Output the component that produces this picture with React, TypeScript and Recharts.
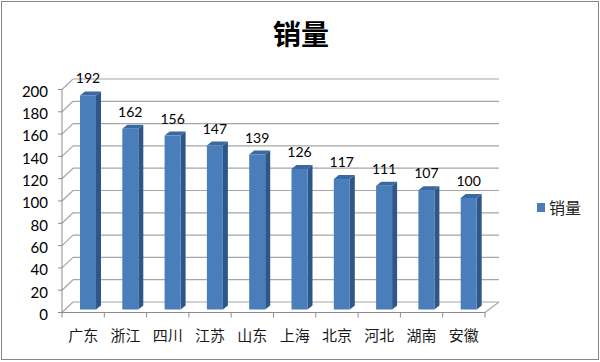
import React from 'react';
import { BarChart, Bar, XAxis, YAxis, CartesianGrid, LabelList, Legend } from 'recharts';

const categories = ['广东', '浙江', '四川', '江苏', '山东', '上海', '北京', '河北', '湖南', '安徽'];
const sales = [192, 162, 156, 147, 139, 126, 117, 111, 107, 100];
const yTicks = [0, 20, 40, 60, 80, 100, 120, 140, 160, 180, 200];
const seriesName = '销量';
const titleText = '销量';

const data = categories.map((c, i) => ({ name: c, [seriesName]: sales[i] }));

const GRID = '#a6a6a6';
const AXIS = '#8c8c8c';
const FRONT = '#4a7ebb';
const SIDE = '#2e5687';
const TOP = '#3a68a3';
const NUM_FONT = 'Lato, "Liberation Sans", sans-serif';
const CJK_FONT = '"Noto Sans CJK SC", sans-serif';

// 3D offsets
const WDX = 11, WDY = -10.5, WDXR = 14; // wall depth
const FDX = 5, FDY = -3; // bar front offset
const BDX = 5, BDY = -4; // bar depth

const Bar3D = (props: any) => {
  const { x, y, width, height } = props;
  if (width == null || height == null) return null;
  const fx = x + FDX;
  const fy = y + FDY;
  const fb = fy + height;
  const side = `${fx + width},${fy} ${fx + width + BDX},${fy + BDY} ${fx + width + BDX},${fb + BDY} ${fx + width},${fb}`;
  const top = `${fx},${fy} ${fx + BDX},${fy + BDY} ${fx + width + BDX},${fy + BDY} ${fx + width},${fy}`;
  return (
    <g>
      <polygon points={side} fill={SIDE} />
      <polygon points={top} fill={TOP} />
      <rect x={fx} y={fy} width={width} height={height} fill={FRONT} />
    </g>
  );
};

const GridLine = (props: any) => {
  const { x1, x2, y1, index } = props;
  const bx1 = x1 + WDX;
  const by = y1 + WDY;
  return (
    <g key={`g-${index}-${y1}`}>
      <line x1={x1} y1={y1} x2={bx1} y2={by} stroke={GRID} strokeWidth={1.2} />
      <line x1={bx1} y1={by} x2={x2 + WDXR} y2={by} stroke={GRID} strokeWidth={1.2} />
      {Math.abs(y1 - 312.5) < 1 ? (
        <line x1={x2} y1={y1} x2={x2 + WDXR} y2={by} stroke={GRID} strokeWidth={1.2} />
      ) : null}
    </g>
  );
};

const XTick = (props: any) => {
  const { x, y, payload, index, visibleTicksCount, width } = props;
  const step = width && visibleTicksCount ? width / visibleTicksCount : 42.3;
  const half = step / 2;
  return (
    <g>
      <line x1={x - half} y1={y} x2={x - half} y2={y + 5} stroke={AXIS} />
      {index === visibleTicksCount - 1 ? (
        <line x1={x + half} y1={y} x2={x + half} y2={y + 5} stroke={AXIS} />
      ) : null}
      <text x={x} y={y + 28} textAnchor="middle" fontFamily={CJK_FONT} fontSize={15} fill="#1a1a1a">
        {payload.value}
      </text>
    </g>
  );
};

const ValueLabel = (props: any) => {
  const { x, y, width, value } = props;
  return (
    <text x={x + FDX + width / 2} y={y - 15} textAnchor="middle" fontFamily={NUM_FONT} fontSize={14} fill="#000">
      {value}
    </text>
  );
};

const LegendContent = () => (
  <div style={{ display: 'flex', alignItems: 'center', fontFamily: CJK_FONT, fontSize: 16, color: '#222', lineHeight: '20px' }}>
    <span style={{ display: 'inline-block', width: 8, height: 9, background: FRONT, marginRight: 4 }} />
    <span>{seriesName}</span>
  </div>
);

export default function App() {
  return (
    <div style={{ position: 'absolute', left: 0, top: 0, width: 600, height: 362, background: '#fff' }}>
      <div
        style={{
          position: 'absolute', left: 1, top: 1, width: 598, height: 359, boxSizing: 'border-box',
          border: '1px solid #868686', pointerEvents: 'none', zIndex: 2,
        }}
      />
      <div
        style={{
          position: 'absolute', left: 1, top: 14, width: 600, textAlign: 'center', fontFamily: CJK_FONT,
          fontWeight: 'bold', fontSize: 28, lineHeight: '38px', color: '#000', zIndex: 1,
        }}
      >
        {titleText}
      </div>
      <BarChart width={600} height={362} data={data} margin={{ top: 89.5, right: 115, bottom: 19.5, left: 0 }}>
        <CartesianGrid vertical={false} horizontal={GridLine as any} />
        <XAxis
          dataKey="name"
          height={30}
          tickLine={false}
          tickSize={0}
          tickMargin={0}
          axisLine={{ stroke: AXIS }}
          tick={<XTick />}
          interval={0}
        />
        <YAxis
          width={62}
          domain={[0, 200]}
          ticks={yTicks}
          interval={0}
          tickSize={4}
          tickMargin={10}
          axisLine={{ stroke: AXIS }}
          tickLine={{ stroke: AXIS }}
          tick={{ fontFamily: NUM_FONT, fontSize: 15, fill: '#000', dy: 2 }}
        />
        <Legend
          layout="vertical"
          align="center"
          verticalAlign="middle"
          content={<LegendContent />}
          wrapperStyle={{ left: 537, top: 197, width: 60 }}
        />
        <Bar dataKey={seriesName} barSize={16} shape={<Bar3D />} isAnimationActive={false}>
          <LabelList dataKey={seriesName} content={<ValueLabel />} />
        </Bar>
      </BarChart>
    </div>
  );
}
